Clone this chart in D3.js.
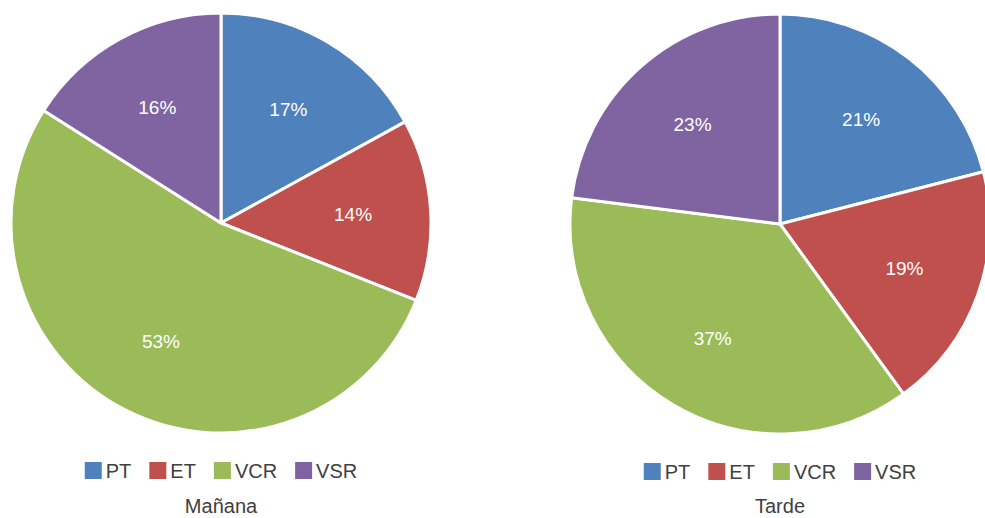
<!DOCTYPE html>
<html>
<head>
<meta charset="utf-8">
<script src="https://cdn.jsdelivr.net/npm/d3@7"></script>
<style>
  body { margin: 0; background: #fff; }
  svg text { font-family: "Liberation Sans", "DejaVu Sans", sans-serif; }
</style>
</head>
<body>
<svg id="chart" width="985" height="518"></svg>
<script>
// categories + values per chart
const categories = ["PT", "ET", "VCR", "VSR"];
const colors = ["#4f81bd", "#c0504d", "#9bbb59", "#8064a2"];
const valuesManana = [17, 14, 53, 16];
const valuesTarde = [21, 19, 37, 23];
const titles = ["Mañana", "Tarde"];

const svg = d3.select("#chart");
const radius = 210;
const centers = [{x: 221, y: 223}, {x: 780, y: 224}];

const pie = d3.pie().sort(null).value(d => d);
const arc = d3.arc().innerRadius(0).outerRadius(radius);
const labelArc = d3.arc().innerRadius(radius * 0.63).outerRadius(radius * 0.63);
const color = d3.scaleOrdinal().domain(categories).range(colors);

function drawPie(values, c, title) {
    const g = svg.append("g").attr("transform", `translate(${c.x},${c.y})`);
    const arcs = pie(values);

    g.selectAll("path.slice").data(arcs).join("path")
        .attr("class", "slice")
        .attr("d", arc)
        .attr("fill", (d, i) => color(categories[i]))
        .attr("stroke", "#fff")
        .attr("stroke-width", 3)
        .attr("stroke-linejoin", "round");

    g.selectAll("text.lbl").data(arcs).join("text")
        .attr("class", "lbl")
        .attr("transform", d => `translate(${labelArc.centroid(d)})`)
        .attr("text-anchor", "middle")
        .attr("dy", "0.35em")
        .attr("fill", "#fff")
        .style("font-size", "19px")
        .text(d => d.data + "%");

    // legend
    const leg = svg.append("g").attr("transform", `translate(0,${c.y + 239})`);
    const items = leg.selectAll("g").data(categories).join("g");
    items.append("rect").attr("width", 17).attr("height", 17).attr("fill", d => color(d));
    items.append("text").attr("x", 21).attr("y", 16)
        .attr("fill", "#404040").style("font-size", "20px").text(d => d);
    let x = 0;
    const offs = [];
    items.each(function() {
        offs.push(x);
        x += 21 + this.querySelector("text").getComputedTextLength() + 18;
    });
    const total = x - 18;
    items.attr("transform", (d, i) => `translate(${c.x - total / 2 + offs[i]},0)`);

    svg.append("text")
        .attr("x", c.x).attr("y", 513)
        .attr("text-anchor", "middle")
        .attr("fill", "#404040")
        .style("font-size", "20px")
        .text(title);
}

drawPie(valuesManana, centers[0], titles[0]);
drawPie(valuesTarde, centers[1], titles[1]);
</script>
</body>
</html>
